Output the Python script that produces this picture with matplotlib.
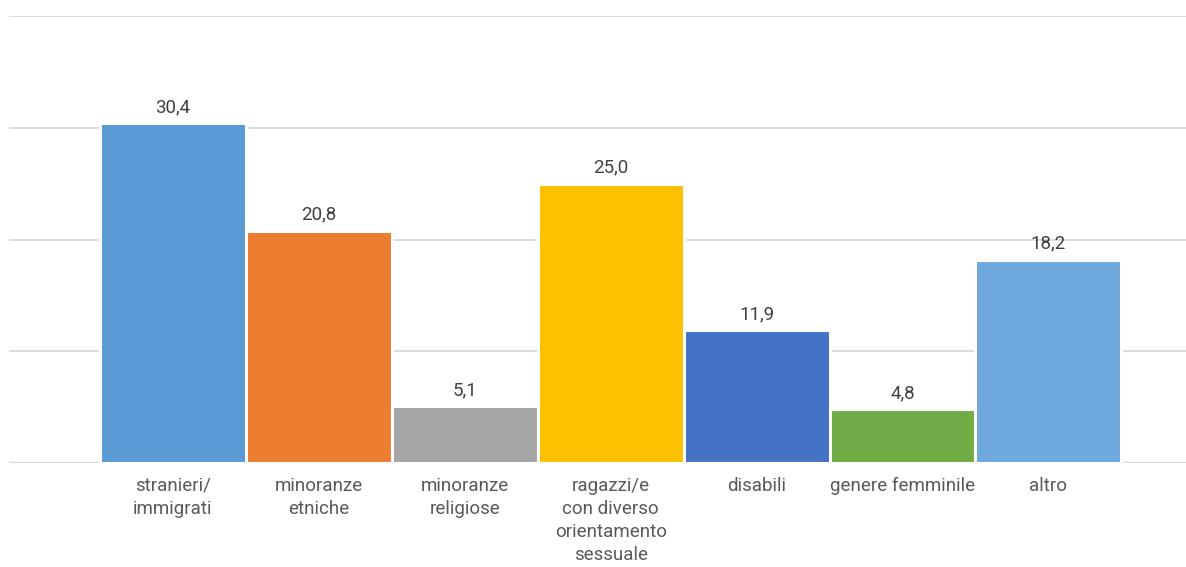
import matplotlib
matplotlib.use('Agg')
import matplotlib.pyplot as plt

# Dati
categorie = ['stranieri/\nimmigrati', 'minoranze\netniche', 'minoranze\nreligiose',
             'ragazzi/e\ncon diverso\norientamento\nsessuale', 'disabili',
             'genere femminile', 'altro']
valori = [30.4, 20.8, 5.1, 25.0, 11.9, 4.8, 18.2]
colori = ['#5B9BD5', '#ED7D31', '#A5A5A5', '#FFC000', '#4472C4', '#70AD47', '#6FA8DC']

plt.rcParams['font.family'] = ['Roboto', 'DejaVu Sans']

fig = plt.figure(figsize=(11.86, 5.67), dpi=100)
ax = fig.add_axes([9 / 1186, 104 / 567, 1 - 9 / 1186, 447 / 567])

x = list(range(len(valori)))
bars = ax.bar(x, valori, width=1.0, color=colori, edgecolor='white', linewidth=2.2, zorder=3)

# Etichette dei valori
etichette = [f'{v:.1f}'.replace('.', ',') for v in valori]
ax.bar_label(bars, labels=etichette, padding=5, fontsize=13.5, color='#404040')

ax.set_ylim(0, 40)
ax.set_xlim(-1.124, 6.943)
ax.set_yticks([0, 10, 20, 30, 40])
ax.yaxis.grid(True, color='#D9D9D9', linewidth=1.3, zorder=0)
ax.set_yticklabels([])
ax.tick_params(axis='y', length=0)
ax.axhline(0, color='#D9D9D9', linewidth=2.5, zorder=2)

ax.set_xticks(x)
ax.set_xticklabels(categorie, fontsize=13.5, color='#595959',
                   linespacing=1.35, va='top')
ax.tick_params(axis='x', length=0, pad=10)

for s in ax.spines.values():
    s.set_visible(False)

plt.savefig('out.png', dpi=100)
